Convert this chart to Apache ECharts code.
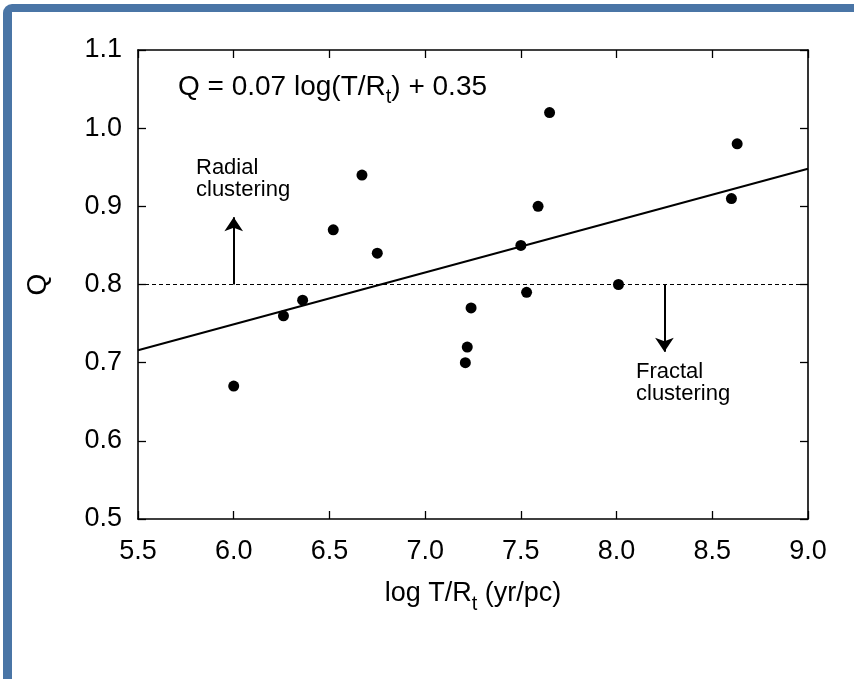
<!DOCTYPE html>
<html>
<head>
<meta charset="utf-8">
<script src="https://cdn.jsdelivr.net/npm/echarts@6/dist/echarts.min.js"></script>
<style>
  html, body { margin: 0; padding: 0; background: #fff; }
  #frame { position: absolute; left: 3px; top: 4px; width: 851px; height: 675px;
           border-top: 8px solid #4a75a6; border-left: 9px solid #4a75a6;
           border-top-left-radius: 9px; box-sizing: border-box; }
  #chart { position: absolute; left: 0; top: 0; width: 854px; height: 679px; }
</style>
</head>
<body>
<div id="frame"></div>
<div id="chart"></div>
<script>
// ---- data ----
const logTR = [6.00, 6.26, 6.36, 6.52, 6.67, 6.75, 7.21, 7.22, 7.24, 7.50, 7.53, 7.59, 7.65, 8.01, 8.60, 8.63];
const qVals = [0.67, 0.76, 0.78, 0.87, 0.94, 0.84, 0.70, 0.72, 0.77, 0.85, 0.79, 0.90, 1.02, 0.80, 0.91, 0.98];
const fitLine = [[5.5, 0.716], [9.0, 0.948]];
const threshold = [[5.5, 0.8], [9.0, 0.8]];
const radialArrow = [[6.0, 0.8], [6.0, 0.886]];
const fractalArrow = [[8.25, 0.8], [8.25, 0.714]];
const xTickLabels = ['5.5', '6.0', '6.5', '7.0', '7.5', '8.0', '8.5', '9.0'];
const yTickLabels = ['0.5', '0.6', '0.7', '0.8', '0.9', '1.0', '1.1'];

const FONT = 'Liberation Sans, Arial, Helvetica, sans-serif';
const scatterData = logTR.map((x, i) => [x, qVals[i]]);

const chart = echarts.init(document.getElementById('chart'), null, { renderer: 'canvas' });

const tickStyle = { show: true, inside: true, length: 8, lineStyle: { color: '#000', width: 1.3 } };
const lineStyleAxis = { show: true, onZero: false, lineStyle: { color: '#000', width: 1.6 } };

chart.setOption({
  backgroundColor: 'transparent',
  animation: false,
  grid: { left: 138, right: 46, top: 50, bottom: 160 },
  xAxis: [{
    type: 'value', min: 5.5, max: 9.0, interval: 0.5, position: 'bottom',
    axisLine: lineStyleAxis, axisTick: tickStyle, splitLine: { show: false },
    axisLabel: { margin: 19, color: '#000', fontSize: 27, fontFamily: FONT,
      formatter: v => xTickLabels[Math.round((v - 5.5) / 0.5)] },
    name: '{a|log T/R}{s|t}{a| (yr/pc)}', nameLocation: 'middle', nameGap: 55,
    nameTextStyle: { color: '#000', fontFamily: FONT, fontSize: 27,
      rich: { a: { fontSize: 27, fontFamily: FONT, color: '#000' },
              s: { fontSize: 20, fontFamily: FONT, color: '#000', padding: [20, 0, 0, 0] } } }
  }, {
    type: 'value', min: 5.5, max: 9.0, interval: 0.5, position: 'top',
    axisLine: lineStyleAxis, axisTick: tickStyle, splitLine: { show: false },
    axisLabel: { show: false }
  }],
  yAxis: [{
    type: 'value', min: 0.5, max: 1.1, interval: 0.1, position: 'left',
    axisLine: lineStyleAxis, axisTick: tickStyle, splitLine: { show: false },
    axisLabel: { margin: 16, color: '#000', fontSize: 27, fontFamily: FONT,
      formatter: v => yTickLabels[Math.round((v - 0.5) / 0.1)] },
    name: 'Q', nameLocation: 'middle', nameGap: 86,
    nameTextStyle: { color: '#000', fontFamily: FONT, fontSize: 28 }
  }, {
    type: 'value', min: 0.5, max: 1.1, interval: 0.1, position: 'right',
    axisLine: lineStyleAxis, axisTick: tickStyle, splitLine: { show: false },
    axisLabel: { show: false }
  }],
  series: [
    { type: 'line', data: threshold, showSymbol: false, silent: true,
      lineStyle: { color: '#000', width: 1.2, type: [4, 3] } },
    { type: 'line', data: fitLine, showSymbol: false, silent: true,
      lineStyle: { color: '#000', width: 2 } },
    { type: 'lines', coordinateSystem: 'cartesian2d', silent: true,
      symbol: ['none', 'arrow'], symbolSize: [6, 14],
      lineStyle: { color: '#000', width: 2, opacity: 1 },
      data: [{ coords: radialArrow }, { coords: fractalArrow }] },
    { type: 'scatter', data: scatterData, symbol: 'circle', symbolSize: 11,
      itemStyle: { color: '#000', opacity: 1 } }
  ],
  graphic: [
    { type: 'text', left: 178, top: 73,
      style: { text: '{a|Q = 0.07 log(T/R}{s|t}{a|) + 0.35}', fill: '#000',
        rich: { a: { fontSize: 28, fontFamily: FONT, fill: '#000' },
                s: { fontSize: 20, fontFamily: FONT, fill: '#000', padding: [20, 0, 0, 0] } } } },
    { type: 'text', left: 196, top: 157,
      style: { text: 'Radial\nclustering', fill: '#000', font: '22px ' + FONT, lineHeight: 22 } },
    { type: 'text', left: 636, top: 361,
      style: { text: 'Fractal\nclustering', fill: '#000', font: '22px ' + FONT, lineHeight: 22 } }
  ]
});
</script>
</body>
</html>
